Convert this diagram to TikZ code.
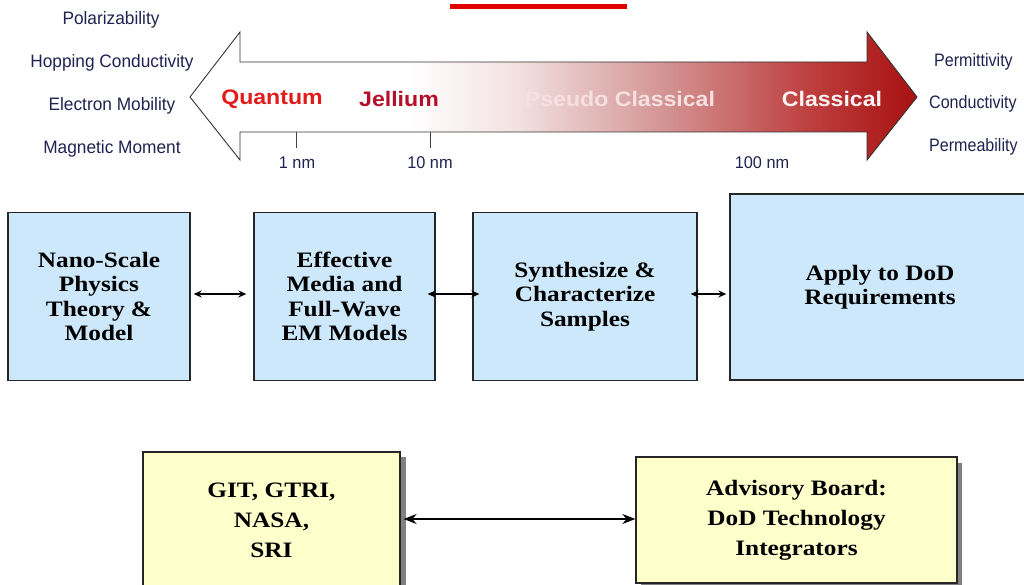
\documentclass[tikz,border=0pt]{standalone}
\usepackage{fontspec}
\setmainfont{Liberation Serif}
\newfontfamily\boxfont[FakeStretch=1.15]{Liberation Serif}
\newfontfamily\labelfont[FakeStretch=1.1]{Liberation Sans}
\newfontfamily\sidefont[FakeStretch=0.96]{Liberation Sans}
\usetikzlibrary{arrows.meta}

\definecolor{skyfill}{HTML}{CCE8FA}
\definecolor{creamfill}{HTML}{FFFFCC}
\definecolor{navytext}{HTML}{1F2350}
\definecolor{quantumred}{HTML}{E31B1B}
\definecolor{jelliumred}{HTML}{B5102A}
\definecolor{pseudopink}{HTML}{F6E0E0}
\definecolor{classicalwhite}{HTML}{FFF2F2}
\definecolor{titlered}{HTML}{E00000}
\definecolor{rampA}{HTML}{F3E1E1}
\definecolor{rampB}{HTML}{D49595}
\definecolor{rampC}{HTML}{BE4040}
\definecolor{rampD}{HTML}{A81010}

% light-to-dark red ramp along the length scale arrow
% (the path's bounding box spans 25bp..75bp of the shading)
\pgfdeclarehorizontalshading{lengthscale}{100bp}{%
  color(0bp)=(white); color(40bp)=(white);
  color(47.5bp)=(rampA); color(57.5bp)=(rampB);
  color(67.5bp)=(rampC); color(75bp)=(rampD); color(100bp)=(rampD)}

\tikzset{
  sidelabel/.style={text=navytext, font=\sidefont\fontsize{18}{18}\selectfont, inner sep=0pt},
  scalelabel/.style={font=\labelfont\bfseries\fontsize{21}{21}\selectfont, inner sep=0pt},
  ticklabel/.style={text=navytext, font=\sidefont\fontsize{17}{17}\selectfont, inner sep=0pt},
  bluebox/.style={draw=black!85, line width=1.3pt, fill=skyfill, inner sep=0pt, align=center,
    font=\boxfont\bfseries\fontsize{22}{24.5}\selectfont},
  creambox/.style={draw=black!85, line width=1.3pt, fill=creamfill, inner sep=0pt, align=center,
    font=\boxfont\bfseries\fontsize{22}{30}\selectfont},
  dropshadow/.style={fill=black!50, draw=none},
  link/.style={line width=1.3pt, {Stealth[length=8pt,width=7pt]}-{Stealth[length=8pt,width=7pt]}},
  biglink/.style={line width=1.5pt, {Stealth[length=13pt,width=10pt]}-{Stealth[length=13pt,width=10pt]}},
}
\begin{document}
\begin{tikzpicture}[x=1pt, y=-1pt]
  \useasboundingbox (0,0) rectangle (1024,585);
  \clip (0,0) rectangle (1024,585);

  % heading underline
  \fill[titlered] (450,4) rectangle (627,9);

  % length scale double arrow
  \draw[line width=0.9pt, black!80, shading=lengthscale]
    (190,97) -- (240,32) -- (240,62) -- (867,62) -- (867,32) -- (917,97)
    -- (867,160) -- (867,132) -- (240,132) -- (240,160) -- cycle;

  % ticks
  \coordinate (t1top) at (296,132);
  \coordinate (t1bot) at (296,148);
  \coordinate (t2top) at (430,132);
  \coordinate (t2bot) at (430,148);
  \draw[line width=1pt, black!75] (t1top) -- (t1bot);
  \draw[line width=1pt, black!75] (t2top) -- (t2bot);
  \node[ticklabel] (nm1) at (297,163) {1 nm};
  \node[ticklabel] (nm10) at (430,163) {10 nm};
  \node[ticklabel] (nm100) at (762,163) {100 nm};

  % regime names
  \node[scalelabel, text=quantumred] (quantum) at (272,99) {Quantum};
  \node[scalelabel, text=jelliumred] (jellium) at (399,99) {Jellium};
  \node[scalelabel, text=pseudopink] (pseudo) at (620,99) {Pseudo Classical};
  \node[scalelabel, text=classicalwhite] (classical) at (832,99) {Classical};

  % properties at each end
  \node[sidelabel] (pol) at (111,20) {Polarizability};
  \node[sidelabel] (hop) at (112,63) {Hopping Conductivity};
  \node[sidelabel] (mob) at (112,106) {Electron Mobility};
  \node[sidelabel] (mag) at (112,149) {Magnetic Moment};
  \node[sidelabel, anchor=west, xscale=0.93] (perm) at (934,62) {Permittivity};
  \node[sidelabel, anchor=west, xscale=0.93] (cond) at (929,104) {Conductivity};
  \node[sidelabel, anchor=west, xscale=0.93] (pmb) at (929,147) {Permeability};

  % research flow
  \node[bluebox, minimum width=182pt, minimum height=168pt] (theory) at (99,296.5)
    {Nano-Scale\\Physics\\Theory \&\\Model};
  \node[bluebox, minimum width=181pt, minimum height=168pt] (media) at (344.5,296.5)
    {Effective\\Media and\\Full-Wave\\EM Models};
  \node[bluebox, minimum width=224pt, minimum height=168pt] (synth) at (585,296.5)
    {Synthesize \&\\Characterize\\Samples};
  \node[bluebox, minimum width=300pt, minimum height=186pt] (apply) at (880,287)
    {Apply to DoD\\Requirements};

  \draw[link, shorten <=3pt, shorten >=7pt] ([yshift=2.5pt]theory.east) -- ([yshift=2.5pt]media.west);
  \draw[link, shorten <=-8pt, shorten >=-7pt] ([yshift=2.5pt]media.east) -- ([yshift=2.5pt]synth.west);
  \draw[link, shorten <=-7pt, shorten >=3pt] ([yshift=2.5pt]synth.east) -- ([yshift=2.5pt]synth.east -| apply.west);

  % partners
  \fill[dropshadow] (400,457) rectangle (406,590);
  \node[creambox, minimum width=257pt, minimum height=136pt] (partners) at (271.5,520)
    {GIT, GTRI,\\NASA,\\SRI};
  \fill[dropshadow] (957,463) rectangle (962,588);
  \fill[dropshadow] (641,583) rectangle (962,588);
  \node[creambox, minimum width=321pt, minimum height=126pt] (board) at (796.5,520)
    {Advisory Board:\\DoD Technology\\Integrators};

  \draw[biglink, shorten <=3pt] ([yshift=1pt]partners.east) -- ([yshift=1pt]board.west);
\end{tikzpicture}
\end{document}
